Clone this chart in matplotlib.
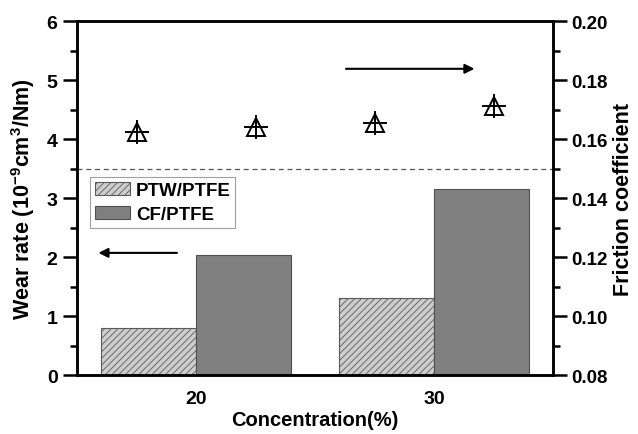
import matplotlib
matplotlib.use("Agg")
import matplotlib.pyplot as plt
import numpy as np

plt.rcParams['font.family'] = ['Liberation Sans', 'DejaVu Sans']
plt.rcParams['font.weight'] = 'bold'
plt.rcParams['axes.labelweight'] = 'bold'
plt.rcParams['hatch.linewidth'] = 0.6
plt.rcParams['mathtext.fontset'] = 'custom'
plt.rcParams['mathtext.rm'] = 'Liberation Sans:bold'
plt.rcParams['mathtext.it'] = 'Liberation Sans:bold'
plt.rcParams['mathtext.bf'] = 'Liberation Sans:bold'

categories = ['20', '30']
ptw_wear = [0.80, 1.30]
cf_wear = [2.04, 3.15]
# friction coefficients in order: PTW20, CF20, PTW30, CF30
friction = [0.1625, 0.1640, 0.1655, 0.1712]

fig = plt.figure(figsize=(6.38, 4.35), dpi=100)
ax = fig.add_axes([0.1207, 0.1356, 0.7461, 0.8138])
ax2 = ax.twinx()

x = np.arange(1, len(categories) + 1)
w = 0.4
ax.bar(x - w / 2, ptw_wear, w, color='#cdcdcd', edgecolor='#5a5a5a', hatch='/////',
       linewidth=0.8, label='PTW/PTFE', zorder=2)
ax.bar(x + w / 2, cf_wear, w, color='#808080', edgecolor='#505050',
       linewidth=0.8, label='CF/PTFE', zorder=2)

ax.axhline(3.5, color='#555555', linestyle=(0, (4, 3)), linewidth=0.9, zorder=1)

fx = np.ravel(np.column_stack([x - 0.25, x + 0.25]))
ax2.plot(fx, friction, linestyle='none', marker='^', markersize=13.5,
         markerfacecolor='none', markeredgecolor='black', markeredgewidth=1.4)
ax2.plot(fx, friction, linestyle='none', marker='+', markersize=17,
         markeredgecolor='black', markeredgewidth=1.4)

ax.set_xlim(0.5, 2.5)
ax.set_ylim(0, 6)
ax2.set_ylim(0.08, 0.20)
ax.set_xticks(x)
ax.set_xticklabels(categories)
ax.tick_params(axis='x', length=0, pad=11, labelsize=14)
ax.set_yticks(np.arange(0, 7, 1))
ax.set_yticks(np.arange(0.5, 6, 1), minor=True)
ax.tick_params(axis='y', which='major', direction='out', length=10, width=1.8, labelsize=14, pad=4)
ax.tick_params(axis='y', which='minor', direction='out', length=5, width=1.8)
ax2.set_yticks(np.arange(0.08, 0.201, 0.02))
ax2.set_yticks(np.arange(0.09, 0.20, 0.02), minor=True)
ax2.set_yticklabels(['%.2f' % v for v in np.arange(0.08, 0.201, 0.02)])
ax2.tick_params(axis='y', which='major', direction='out', length=10, width=1.8, labelsize=13.5, pad=3)
ax2.tick_params(axis='y', which='minor', direction='out', length=5, width=1.8)

for a in (ax, ax2):
    for s in a.spines.values():
        s.set_linewidth(1.8)

ax.set_xlabel('Concentration(%)', fontsize=14.5, labelpad=2)
ax.set_ylabel(r'Wear rate (10$^{-9}$cm$^{3}$/Nm)', fontsize=15.5, labelpad=7)
ax2.set_ylabel('Friction coefficient', fontsize=15.5, labelpad=4)

ax.annotate('', xy=(0.59, 2.07), xytext=(0.92, 2.07),
            arrowprops=dict(arrowstyle='-|>', color='black', lw=1.5,
                            mutation_scale=14, shrinkA=0, shrinkB=0))
ax.annotate('', xy=(2.17, 5.19), xytext=(1.63, 5.19),
            arrowprops=dict(arrowstyle='-|>', color='black', lw=1.5,
                            mutation_scale=14, shrinkA=0, shrinkB=0))

leg = ax.legend(loc='upper left', bbox_to_anchor=(0.141, 0.591), bbox_transform=fig.transFigure,
                frameon=True, fancybox=False, edgecolor='#888888', fontsize=13.5,
                handlelength=1.9, handleheight=0.75, handletextpad=0.3,
                borderpad=0.25, labelspacing=0.35, borderaxespad=0)
leg.get_frame().set_linewidth(0.8)

fig.savefig('out.png', dpi=100)
